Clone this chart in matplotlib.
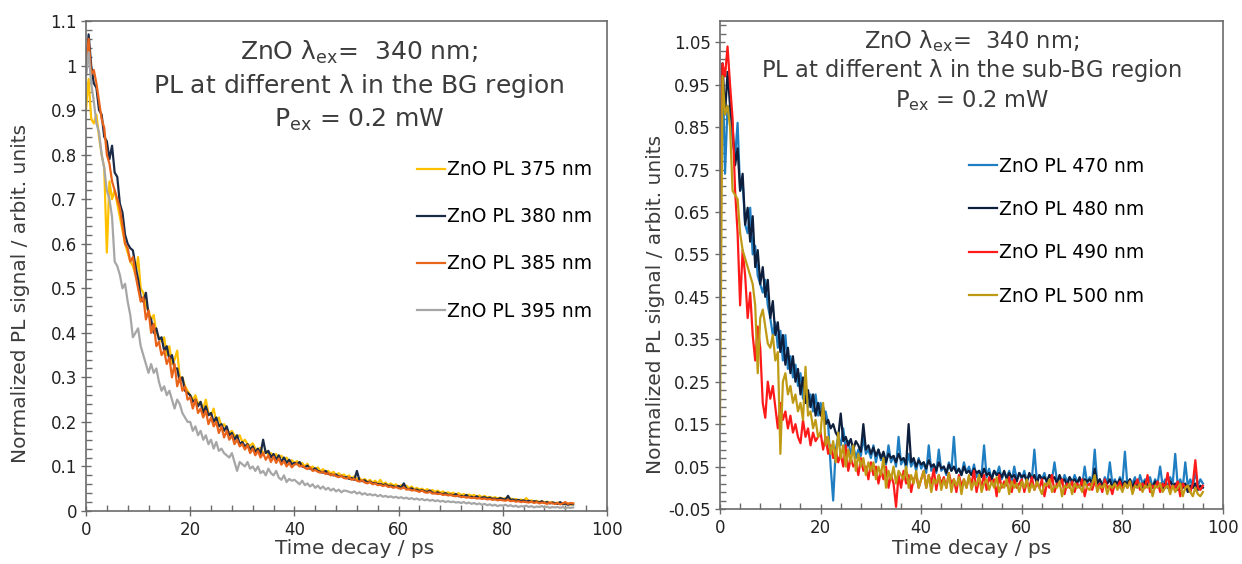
import numpy as np
import matplotlib
matplotlib.use("Agg")
import matplotlib.pyplot as plt
from matplotlib.ticker import FuncFormatter

plt.rcParams["font.family"] = ["DejaVu Sans"]
plt.rcParams["mathtext.default"] = "regular"

# ---- data: left panel (band-gap emission), 0.5 ps steps ----
t_bg = np.arange(188) * 0.5

pl_375 = [
    0.90, 0.97, 0.88, 0.87, 0.89, 0.84, 0.80, 0.77, 0.58, 0.74, 0.70, 0.72, 0.69, 0.66, 0.63, 0.60, 0.58, 0.56, 0.55, 0.53,
    0.57, 0.50, 0.49, 0.46, 0.45, 0.43, 0.44, 0.40, 0.39, 0.38, 0.39, 0.35, 0.37, 0.33, 0.34, 0.36, 0.30, 0.30, 0.28, 0.27,
    0.26, 0.25, 0.26, 0.24, 0.245, 0.23, 0.25, 0.22, 0.215, 0.23, 0.20, 0.21, 0.19, 0.195, 0.185, 0.175, 0.18, 0.17, 0.165, 0.17,
    0.155, 0.16, 0.15, 0.147, 0.152, 0.14, 0.138, 0.142, 0.13, 0.135, 0.126, 0.13, 0.122, 0.128, 0.117, 0.124, 0.115, 0.12, 0.11, 0.114,
    0.108, 0.112, 0.104, 0.108, 0.10, 0.106, 0.096, 0.10, 0.092, 0.098, 0.089, 0.094, 0.086, 0.09, 0.084, 0.088, 0.08, 0.085, 0.079, 0.082,
    0.076, 0.08, 0.073, 0.078, 0.071, 0.074, 0.068, 0.072, 0.066, 0.07, 0.064, 0.068, 0.062, 0.07, 0.06, 0.064, 0.058, 0.062, 0.057, 0.06,
    0.055, 0.058, 0.053, 0.057, 0.051, 0.055, 0.049, 0.052, 0.048, 0.05, 0.046, 0.049, 0.044, 0.047, 0.043, 0.046, 0.041, 0.044, 0.04, 0.042,
    0.039, 0.041, 0.037, 0.04, 0.036, 0.038, 0.035, 0.037, 0.034, 0.036, 0.032, 0.035, 0.031, 0.034, 0.03, 0.032, 0.029, 0.031, 0.028, 0.03,
    0.027, 0.029, 0.026, 0.028, 0.025, 0.027, 0.024, 0.026, 0.023, 0.029, 0.022, 0.024, 0.021, 0.023, 0.02, 0.022, 0.019, 0.021, 0.018, 0.02,
    0.017, 0.019, 0.016, 0.018, 0.015, 0.017, 0.014, 0.016,
]
pl_380 = [
    0.98, 1.07, 1.00, 0.96, 0.95, 0.90, 0.89, 0.84, 0.83, 0.79, 0.82, 0.76, 0.75, 0.69, 0.67, 0.62, 0.60, 0.59, 0.585, 0.55,
    0.52, 0.48, 0.47, 0.49, 0.44, 0.43, 0.40, 0.41, 0.385, 0.39, 0.36, 0.37, 0.34, 0.35, 0.32, 0.32, 0.29, 0.30, 0.27, 0.265,
    0.26, 0.245, 0.25, 0.235, 0.245, 0.22, 0.235, 0.215, 0.22, 0.20, 0.21, 0.19, 0.195, 0.18, 0.19, 0.17, 0.175, 0.16, 0.17, 0.15,
    0.155, 0.145, 0.15, 0.138, 0.145, 0.132, 0.14, 0.128, 0.16, 0.13, 0.135, 0.12, 0.128, 0.115, 0.125, 0.11, 0.12, 0.108, 0.115, 0.105,
    0.108, 0.105, 0.11, 0.10, 0.098, 0.102, 0.095, 0.092, 0.096, 0.09, 0.088, 0.086, 0.09, 0.083, 0.082, 0.08, 0.082, 0.077, 0.079, 0.075,
    0.076, 0.072, 0.074, 0.07, 0.09, 0.068, 0.067, 0.069, 0.064, 0.066, 0.062, 0.063, 0.06, 0.061, 0.058, 0.06, 0.056, 0.057, 0.055, 0.054,
    0.056, 0.052, 0.062, 0.05, 0.049, 0.051, 0.047, 0.048, 0.045, 0.047, 0.044, 0.043, 0.046, 0.041, 0.04, 0.042, 0.039, 0.038, 0.04, 0.036,
    0.037, 0.035, 0.038, 0.033, 0.034, 0.032, 0.036, 0.031, 0.032, 0.03, 0.033, 0.029, 0.03, 0.031, 0.028, 0.03, 0.027, 0.028, 0.026, 0.029,
    0.027, 0.025, 0.034, 0.024, 0.026, 0.023, 0.025, 0.022, 0.024, 0.021, 0.023, 0.02, 0.022, 0.021, 0.019, 0.022, 0.018, 0.02, 0.017, 0.019,
    0.018, 0.016, 0.02, 0.015, 0.017, 0.014, 0.016, 0.015,
]
pl_385 = [
    1.00, 1.06, 0.98, 0.99, 0.96, 0.92, 0.88, 0.86, 0.80, 0.78, 0.74, 0.72, 0.70, 0.68, 0.64, 0.60, 0.59, 0.56, 0.57, 0.53,
    0.50, 0.47, 0.48, 0.43, 0.45, 0.40, 0.42, 0.37, 0.38, 0.35, 0.36, 0.33, 0.345, 0.30, 0.33, 0.28, 0.30, 0.27, 0.28, 0.25,
    0.255, 0.23, 0.25, 0.22, 0.23, 0.21, 0.225, 0.195, 0.21, 0.19, 0.20, 0.175, 0.19, 0.165, 0.18, 0.16, 0.17, 0.15, 0.16, 0.145,
    0.15, 0.138, 0.148, 0.13, 0.14, 0.125, 0.135, 0.12, 0.13, 0.115, 0.125, 0.11, 0.122, 0.108, 0.118, 0.104, 0.112, 0.10, 0.108, 0.098,
    0.104, 0.106, 0.10, 0.102, 0.097, 0.094, 0.098, 0.09, 0.092, 0.088, 0.086, 0.088, 0.083, 0.085, 0.08, 0.082, 0.078, 0.076, 0.079, 0.074,
    0.073, 0.075, 0.07, 0.072, 0.068, 0.066, 0.069, 0.064, 0.062, 0.065, 0.06, 0.062, 0.058, 0.059, 0.056, 0.058, 0.054, 0.055, 0.052, 0.054,
    0.051, 0.05, 0.053, 0.048, 0.049, 0.046, 0.047, 0.045, 0.043, 0.046, 0.042, 0.041, 0.043, 0.039, 0.04, 0.038, 0.039, 0.036, 0.037, 0.035,
    0.036, 0.034, 0.033, 0.035, 0.031, 0.032, 0.03, 0.031, 0.029, 0.03, 0.028, 0.029, 0.027, 0.028, 0.026, 0.027, 0.025, 0.026, 0.024, 0.025,
    0.024, 0.023, 0.025, 0.022, 0.023, 0.021, 0.022, 0.02, 0.021, 0.02, 0.019, 0.021, 0.018, 0.02, 0.017, 0.019, 0.018, 0.016, 0.019, 0.017,
    0.016, 0.018, 0.015, 0.017, 0.02, 0.016, 0.018, 0.017,
]
pl_395 = [
    0.98, 1.03, 0.96, 0.92, 0.87, 0.85, 0.80, 0.77, 0.72, 0.70, 0.66, 0.56, 0.55, 0.53, 0.50, 0.51, 0.47, 0.44, 0.39, 0.40,
    0.41, 0.37, 0.35, 0.33, 0.31, 0.33, 0.31, 0.32, 0.29, 0.27, 0.28, 0.26, 0.27, 0.25, 0.23, 0.25, 0.24, 0.22, 0.21, 0.20,
    0.20, 0.18, 0.19, 0.17, 0.18, 0.16, 0.17, 0.15, 0.16, 0.14, 0.155, 0.135, 0.14, 0.13, 0.125, 0.12, 0.13, 0.11, 0.09, 0.11,
    0.105, 0.10, 0.11, 0.095, 0.10, 0.09, 0.10, 0.085, 0.09, 0.08, 0.095, 0.085, 0.08, 0.09, 0.075, 0.07, 0.08, 0.065, 0.072, 0.068,
    0.07, 0.065, 0.06, 0.068, 0.058, 0.062, 0.055, 0.06, 0.052, 0.057, 0.05, 0.055, 0.048, 0.052, 0.046, 0.05, 0.044, 0.048, 0.042, 0.046,
    0.045, 0.043, 0.041, 0.044, 0.039, 0.042, 0.037, 0.04, 0.036, 0.038, 0.035, 0.037, 0.033, 0.036, 0.032, 0.034, 0.031, 0.033, 0.03, 0.032,
    0.029, 0.031, 0.028, 0.03, 0.027, 0.029, 0.026, 0.028, 0.025, 0.027, 0.024, 0.026, 0.023, 0.025, 0.022, 0.024, 0.021, 0.023, 0.02, 0.022,
    0.02, 0.021, 0.019, 0.02, 0.018, 0.02, 0.017, 0.019, 0.016, 0.018, 0.015, 0.017, 0.014, 0.016, 0.013, 0.015, 0.012, 0.014, 0.011, 0.013,
    0.012, 0.014, 0.011, 0.013, 0.01, 0.012, 0.009, 0.011, 0.01, 0.012, 0.009, 0.011, 0.008, 0.01, 0.009, 0.011, 0.008, 0.01, 0.007, 0.009,
    0.008, 0.009, 0.007, 0.009, 0.006, 0.008, 0.007, 0.008,
]

# ---- data: right panel (sub-band-gap emission), 0.5 ps steps ----
t_sub = np.arange(193) * 0.5

pl_470 = [
    0.75, 1.00, 0.74, 0.90, 0.88, 0.82, 0.78, 0.86, 0.70, 0.72, 0.62, 0.60, 0.66, 0.55, 0.57, 0.50, 0.48, 0.46, 0.49, 0.43,
    0.40, 0.36, 0.39, 0.33, 0.37, 0.30, 0.36, 0.28, 0.31, 0.26, 0.29, 0.24, 0.27, 0.21, 0.25, 0.19, 0.22, 0.18, 0.22, 0.17,
    0.20, 0.17, 0.18, 0.15, 0.05, -0.03, 0.09, 0.12, 0.10, 0.14, 0.09, 0.11, 0.08, 0.10, 0.07, 0.09, 0.075, 0.12, 0.08, 0.09,
    0.07, 0.10, 0.06, 0.09, 0.065, 0.08, 0.055, 0.10, 0.06, 0.075, 0.05, 0.12, 0.055, 0.07, 0.045, 0.08, 0.05, 0.065, 0.04, 0.07,
    0.045, 0.06, 0.035, 0.10, 0.04, 0.055, 0.035, 0.09, 0.04, 0.05, 0.03, 0.06, 0.04, 0.12, 0.035, 0.045, 0.03, 0.06, 0.035, 0.05,
    0.03, 0.055, 0.025, 0.04, 0.03, 0.10, 0.025, 0.045, 0.02, 0.04, 0.03, 0.05, 0.02, 0.035, 0.025, 0.04, 0.015, 0.05, 0.02, 0.035,
    0.02, 0.04, 0.015, 0.03, 0.02, 0.09, 0.015, 0.03, 0.02, 0.035, 0.01, 0.03, 0.02, 0.06, 0.015, 0.025, 0.01, 0.03, 0.015, 0.025,
    0.01, 0.03, 0.015, 0.02, 0.005, 0.05, 0.01, 0.025, 0.015, 0.09, 0.01, 0.02, 0.005, 0.025, 0.01, 0.06, 0.01, 0.02, 0.005, 0.025,
    0.01, 0.085, 0.005, 0.02, 0.01, 0.025, 0.0, 0.03, 0.01, 0.02, 0.005, 0.025, 0.0, 0.02, 0.01, 0.05, 0.005, 0.02, 0.0, 0.025,
    0.01, 0.08, 0.005, 0.02, 0.0, 0.06, 0.005, 0.02, 0.0, 0.04, 0.005, 0.02, 0.01,
]
pl_480 = [
    0.70, 1.00, 0.88, 0.98, 0.90, 0.85, 0.76, 0.80, 0.70, 0.74, 0.62, 0.66, 0.58, 0.64, 0.52, 0.56, 0.48, 0.52, 0.45, 0.49,
    0.40, 0.44, 0.36, 0.39, 0.32, 0.36, 0.29, 0.33, 0.27, 0.31, 0.25, 0.28, 0.22, 0.26, 0.20, 0.23, 0.19, 0.22, 0.17, 0.20,
    0.17, 0.19, 0.15, 0.16, 0.14, 0.15, 0.13, 0.12, 0.175, 0.11, 0.12, 0.10, 0.115, 0.09, 0.11, 0.10, 0.085, 0.15, 0.09, 0.10,
    0.08, 0.095, 0.075, 0.09, 0.07, 0.085, 0.06, 0.08, 0.07, 0.075, 0.06, 0.08, 0.065, 0.07, 0.055, 0.15, 0.06, 0.07, 0.05, 0.065,
    0.055, 0.06, 0.045, 0.065, 0.05, 0.055, 0.04, 0.06, 0.045, 0.05, 0.035, 0.055, 0.04, 0.05, 0.035, 0.045, 0.03, 0.05, 0.035, 0.04,
    0.03, 0.045, 0.035, 0.04, 0.025, 0.045, 0.03, 0.035, 0.02, 0.04, 0.03, 0.035, 0.025, 0.04, 0.02, 0.035, 0.025, 0.03, 0.015, 0.035,
    0.025, 0.03, 0.015, 0.035, 0.02, 0.03, 0.01, 0.03, 0.02, 0.025, 0.015, 0.03, 0.02, 0.025, 0.01, 0.03, 0.015, 0.02, 0.005, 0.025,
    0.015, 0.02, 0.01, 0.025, 0.005, 0.02, 0.015, 0.02, 0.01, 0.045, 0.01, 0.02, 0.005, 0.015, 0.01, 0.02, 0.0, 0.015, 0.01, 0.02,
    0.005, 0.015, 0.01, 0.02, 0.0, 0.015, 0.005, 0.01, -0.005, 0.015, 0.005, 0.01, 0.0, 0.015, 0.005, 0.01, -0.005, 0.01, 0.0, 0.015,
    0.005, 0.01, -0.005, 0.01, 0.0, 0.01, -0.01, 0.005, 0.0, 0.01, -0.005, 0.005, 0.0,
]
pl_490 = [
    0.55, 1.00, 0.97, 1.04, 0.95, 0.87, 0.70, 0.60, 0.43, 0.56, 0.50, 0.40, 0.46, 0.36, 0.30, 0.38, 0.33, 0.20, 0.165, 0.25,
    0.21, 0.24, 0.19, 0.14, 0.20, 0.16, 0.18, 0.14, 0.17, 0.13, 0.15, 0.12, 0.105, 0.16, 0.12, 0.14, 0.10, 0.13, 0.11, 0.12,
    0.13, 0.09, 0.12, 0.08, 0.10, 0.07, 0.09, 0.06, 0.08, 0.05, 0.10, 0.04, 0.07, 0.05, 0.06, 0.03, 0.07, 0.04, 0.05, 0.02,
    0.06, 0.03, 0.05, 0.01, 0.04, 0.02, 0.05, 0.0, 0.03, 0.01, -0.045, 0.03, 0.0, 0.04, 0.01, 0.03, -0.01, 0.02, 0.03, 0.0,
    0.02, 0.04, 0.0, 0.03, 0.01, 0.045, -0.005, 0.03, 0.01, 0.025, 0.0, 0.035, 0.01, 0.02, -0.01, 0.03, 0.005, 0.02, 0.0, 0.025,
    0.01, 0.04, -0.01, 0.02, 0.005, 0.03, -0.005, 0.025, 0.01, 0.02, -0.02, 0.03, 0.0, 0.015, 0.005, 0.025, -0.01, 0.02, 0.0, 0.01,
    0.02, -0.01, 0.015, 0.0, 0.025, -0.005, 0.01, 0.0, 0.02, -0.02, 0.01, 0.0, 0.03, -0.01, 0.01, 0.005, 0.02, -0.015, 0.01, 0.0,
    0.015, -0.01, 0.01, 0.0, 0.02, -0.02, 0.005, 0.01, -0.005, 0.015, 0.0, 0.01, -0.01, 0.02, 0.0, 0.005, -0.015, 0.01, 0.0, 0.015,
    -0.005, 0.01, 0.0, 0.015, -0.01, 0.005, 0.02, -0.005, 0.01, 0.0, 0.03, -0.01, 0.005, 0.0, 0.015, -0.01, 0.01, 0.0, 0.035, -0.005,
    0.005, 0.0, 0.015, -0.02, 0.01, 0.0, 0.005, -0.01, 0.01, 0.065, 0.0, -0.005, 0.005,
]
pl_500 = [
    0.15, 0.97, 0.88, 0.90, 0.85, 0.70, 0.69, 0.68, 0.60, 0.56, 0.54, 0.52, 0.50, 0.48, 0.43, 0.27, 0.40, 0.42, 0.38, 0.34,
    0.33, 0.36, 0.30, 0.32, 0.08, 0.25, 0.27, 0.22, 0.24, 0.20, 0.22, 0.18, 0.20, 0.16, 0.285, 0.17, 0.18, 0.14, 0.16, 0.12,
    0.13, 0.20, 0.10, 0.12, 0.08, 0.11, 0.06, 0.13, 0.07, 0.10, 0.05, 0.09, 0.06, 0.10, 0.04, 0.08, 0.05, 0.07, 0.03, 0.06,
    0.04, 0.06, 0.02, 0.05, 0.03, 0.07, 0.0, 0.04, 0.02, 0.05, 0.01, 0.04, 0.03, 0.02, 0.05, 0.0, 0.03, 0.01, 0.04, 0.0,
    0.02, 0.04, 0.0, 0.03, -0.01, 0.02, 0.01, 0.03, -0.005, 0.02, 0.0, 0.035, -0.01, 0.02, 0.005, 0.025, -0.015, 0.02, 0.0, 0.03,
    -0.005, 0.015, 0.005, 0.03, -0.01, 0.01, 0.02, -0.005, 0.015, 0.0, 0.025, -0.01, 0.01, 0.0, 0.02, -0.015, 0.015, 0.0, 0.01, -0.01,
    0.015, 0.0, 0.02, -0.01, 0.01, -0.005, 0.015, 0.0, -0.015, 0.01, 0.005, 0.02, -0.01, 0.005, 0.0, 0.015, -0.02, 0.005, 0.0, 0.01,
    -0.015, 0.01, 0.0, 0.005, -0.01, 0.015, 0.0, -0.005, 0.01, 0.03, -0.01, 0.005, 0.0, 0.01, -0.015, 0.005, 0.0, 0.01, -0.005, 0.005,
    -0.01, 0.01, 0.0, 0.015, -0.015, 0.005, 0.0, 0.01, -0.01, 0.005, 0.0, 0.01, -0.02, 0.005, 0.0, 0.01, -0.01, 0.0, 0.005, -0.015,
    0.005, -0.01, 0.0, 0.01, -0.02, 0.0, 0.005, -0.01, -0.02, 0.0, -0.015, -0.02, -0.01,
]

bg_series = [
    ("ZnO PL 375 nm", pl_375, "#FFC000"),
    ("ZnO PL 380 nm", pl_380, "#1B2A47"),
    ("ZnO PL 385 nm", pl_385, "#E8641B"),
    ("ZnO PL 395 nm", pl_395, "#A6A6A6"),
]
sub_series = [
    ("ZnO PL 470 nm", pl_470, "#1F7EC2"),
    ("ZnO PL 480 nm", pl_480, "#0E1F3D"),
    ("ZnO PL 490 nm", pl_490, "#FF1A1A"),
    ("ZnO PL 500 nm", pl_500, "#BF9A14"),
]

W, H = 1242, 564
TEXT = "#3c3c3c"
FRAME = "#6b6b6b"


def px_axes(left, top, right, bottom):
    # axes rectangle given in picture pixels
    return [left / W, 1 - bottom / H, (right - left) / W, (bottom - top) / H]


def style_axes(ax, ylo, yhi, yticks):
    ax.set_xlim(0, 100)
    ax.set_ylim(ylo, yhi)
    ax.set_xticks(np.arange(0, 101, 20))
    ax.set_xticks(np.arange(0, 101, 4), minor=True)
    ax.set_yticks(yticks)
    ax.set_yticks(np.arange(ylo, yhi + 0.001, 0.02), minor=True)
    ax.yaxis.set_major_formatter(FuncFormatter(lambda v, p: "%g" % round(v, 2)))
    ax.tick_params(which="major", direction="inout", length=7, width=1,
                   color=FRAME, labelsize=12, labelcolor="#222222")
    ax.tick_params(which="minor", direction="in", length=4, width=1, color=FRAME)
    ax.tick_params(axis="y", which="major", pad=3)
    for s in ax.spines.values():
        s.set_color(FRAME)
        s.set_linewidth(1.2)
    ax.set_xlabel("Time decay / ps", fontsize=14.5, color=TEXT)
    ax.set_ylabel("Normalized PL signal / arbit. units", fontsize=14.5, color=TEXT)


fig = plt.figure(figsize=(W / 100, H / 100), dpi=100)

# left panel
ax1 = fig.add_axes(px_axes(86, 21, 607, 511))
for label, y, c in bg_series:
    ax1.plot(t_bg, y, color=c, lw=1.6, label=label)
style_axes(ax1, 0, 1.1, np.arange(0, 1.101, 0.1))
ax1.xaxis.set_label_coords(0.516, -0.058)
ax1.yaxis.set_label_coords(-0.108, 0.443)
ax1.legend(loc="upper left", bbox_to_anchor=(0.635, 0.716), frameon=False,
           fontsize=13.5, handlelength=1.5, handletextpad=0.1,
           labelspacing=1.5, borderpad=0, borderaxespad=0)

fig.text(359 / W, 1 - 52 / H, r"ZnO $\lambda_{ex}$=  340 nm;",
         ha="center", va="center", fontsize=18, color=TEXT)
fig.text(359 / W, 1 - 86 / H, r"PL at different $\lambda$ in the BG region",
         ha="center", va="center", fontsize=18, color=TEXT)
fig.text(359 / W, 1 - 120 / H, r"P$_{ex}$ = 0.2 mW",
         ha="center", va="center", fontsize=18, color=TEXT)

# right panel
ax2 = fig.add_axes(px_axes(720, 21, 1223, 509))
for label, y, c in sub_series:
    ax2.plot(t_sub, y, color=c, lw=1.6, label=label)
style_axes(ax2, -0.05, 1.1, np.arange(-0.05, 1.051, 0.1))
ax2.xaxis.set_label_coords(0.5, -0.062)
ax2.yaxis.set_label_coords(-0.109, 0.42)
ax2.legend(loc="upper left", bbox_to_anchor=(0.495, 0.722), frameon=False,
           fontsize=13.5, handlelength=1.5, handletextpad=0.1,
           labelspacing=1.3, borderpad=0, borderaxespad=0)

fig.text(972 / W, 1 - 41 / H, r"ZnO $\lambda_{ex}$=  340 nm;",
         ha="center", va="center", fontsize=16.3, color=TEXT)
fig.text(972 / W, 1 - 70 / H, r"PL at different $\lambda$ in the sub-BG region",
         ha="center", va="center", fontsize=16.3, color=TEXT)
fig.text(972 / W, 1 - 101 / H, r"P$_{ex}$ = 0.2 mW",
         ha="center", va="center", fontsize=16.3, color=TEXT)

fig.savefig("out.png", dpi=100)
